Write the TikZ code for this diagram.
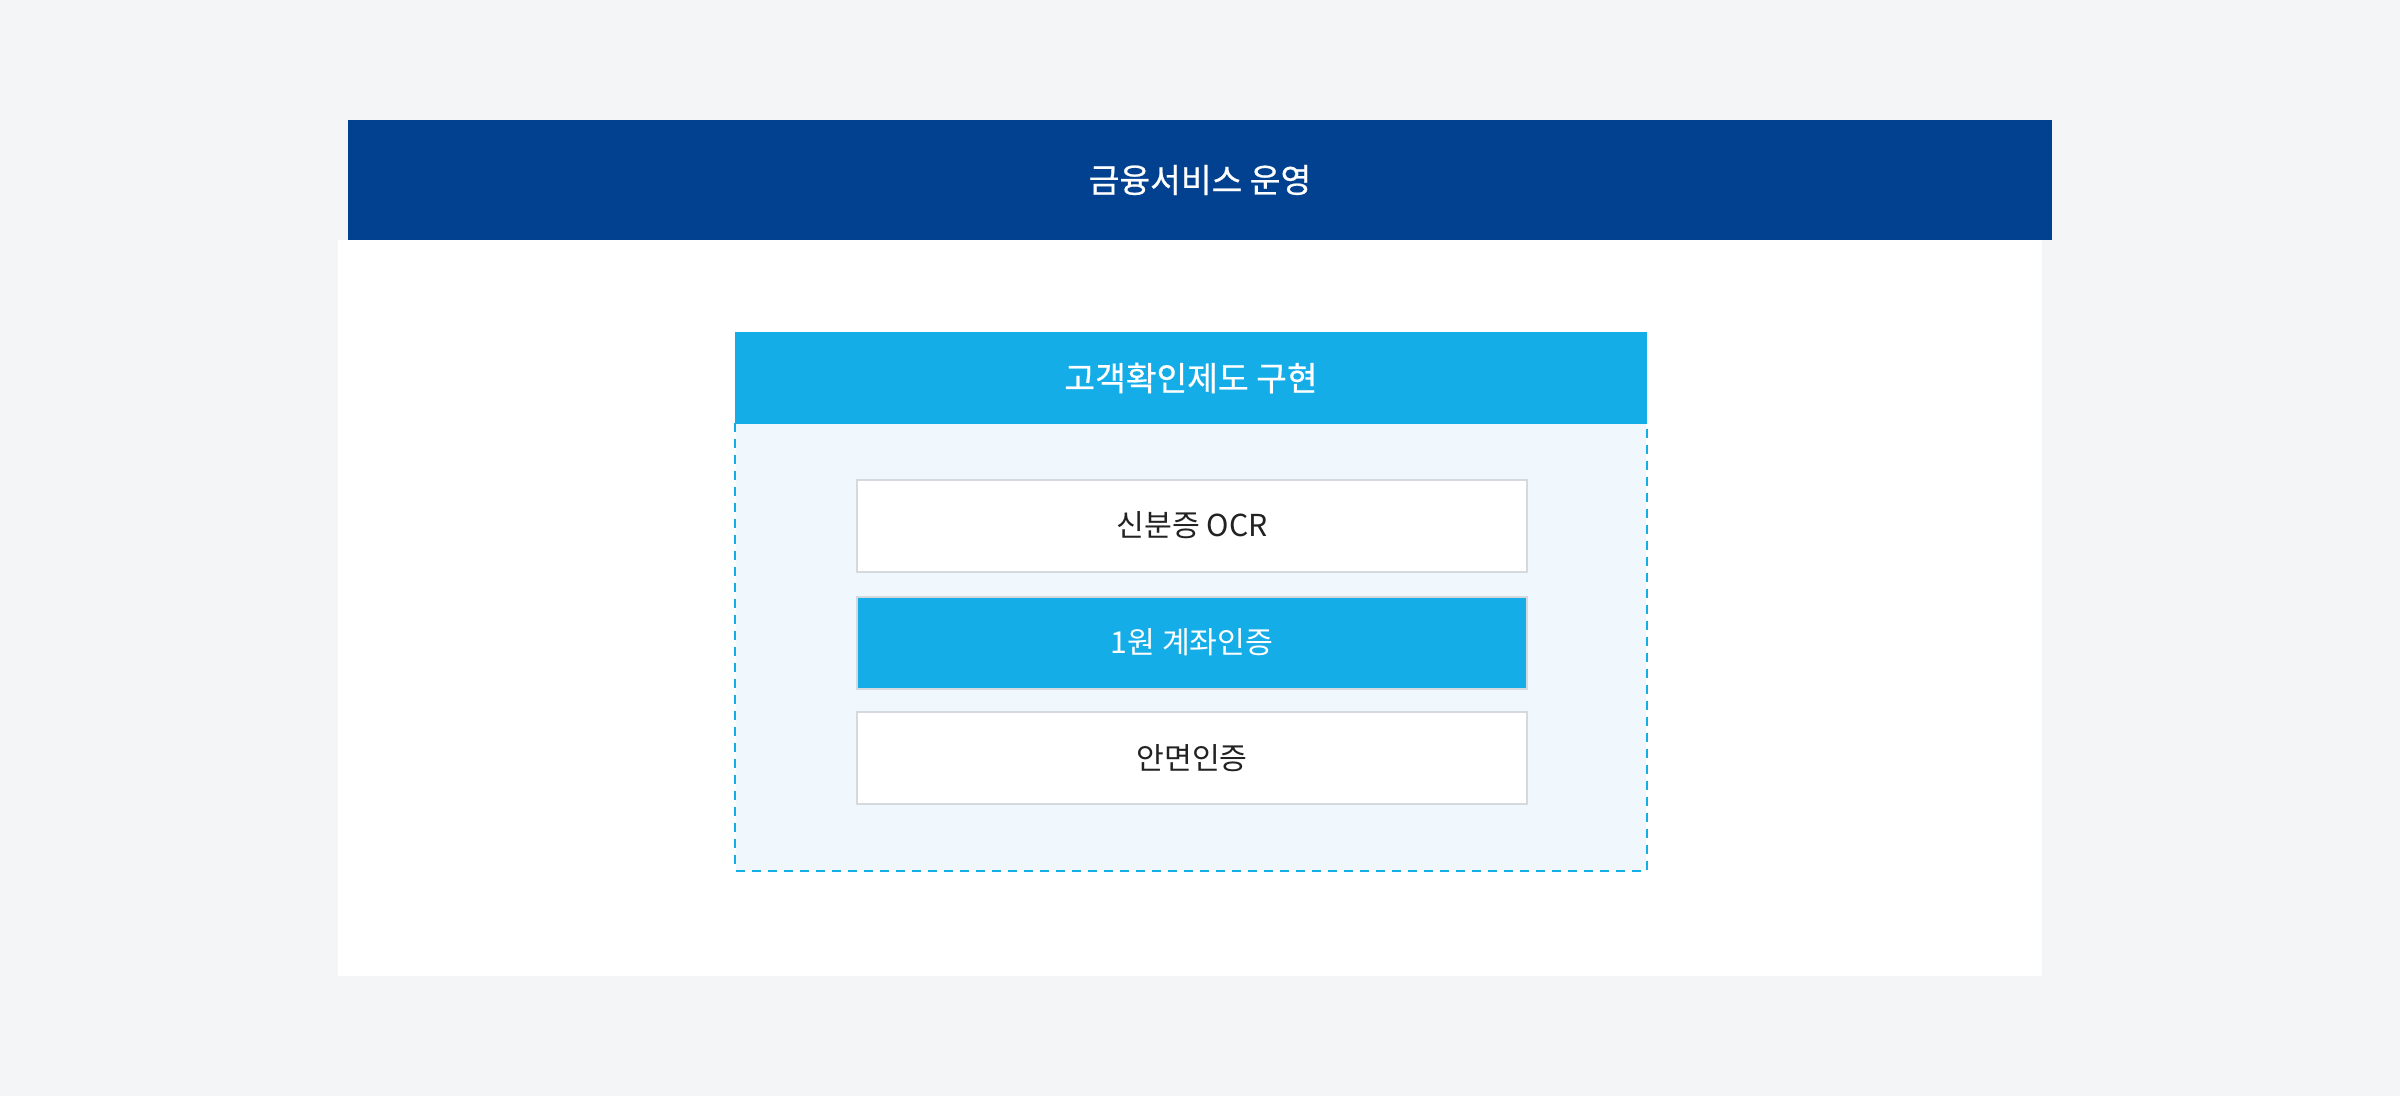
\documentclass[tikz,border=0pt]{standalone}
\usepackage{fontspec}
\usepackage{xcolor}
\setmainfont{Noto Sans CJK KR}
\newfontfamily\headfont[FakeBold=0.6]{Noto Sans CJK KR}
\definecolor{pagegray}{HTML}{F4F5F7}
\definecolor{navy}{HTML}{014190}
\definecolor{skyblue}{HTML}{15ADE8}
\definecolor{paleblue}{HTML}{F0F8FE}
\definecolor{linegray}{HTML}{D5D8DC}
\definecolor{inkgray}{HTML}{222222}

\begin{document}
\begin{tikzpicture}[
    band/.style={rectangle, inner sep=0pt, text=white, font=\headfont\fontsize{9.5}{11}\selectfont},
    item/.style={rectangle, draw=linegray, line width=0.02cm, inner sep=0pt, minimum width=6.7cm, minimum height=0.92cm, font=\fontsize{8.6}{10}\selectfont},
    dashline/.style={draw=skyblue, line width=0.02cm, dash pattern=on 0.09cm off 0.07cm}
]
    % Page and margins
    \fill[pagegray] (0,0) rectangle (24,-10.96);
    \useasboundingbox (0,0) rectangle (24,-10.96);

    % White panel under the top band
    \node[rectangle, fill=white, inner sep=0pt, minimum width=17.04cm, minimum height=7.36cm] (panel) at (11.9,-6.08) {};

    % Top band
    \node[band, fill=navy, minimum width=17.04cm, minimum height=1.2cm] (service) at (12,-1.8) {금융서비스 운영};

    % Dashed frame with its header
    \node[rectangle, fill=paleblue, inner sep=0pt, minimum width=9.1cm, minimum height=4.46cm] (frame) at (11.91,-6.47) {};
    \draw[dashline] (frame.north west) |- (frame.south east) -- (frame.north east);
    \node[band, fill=skyblue, minimum width=9.12cm, minimum height=0.92cm] (kyc) at (11.91,-3.78) {고객확인제도 구현};

    % Methods
    \node[item, fill=white, text=inkgray] (ocr) at (11.92,-5.255) {신분증 OCR};
    \node[item, fill=skyblue, text=white] (account) at (11.92,-6.425) {1원 계좌인증};
    \node[item, fill=white, text=inkgray] (face) at (11.92,-7.58) {안면인증};
\end{tikzpicture}
\end{document}
